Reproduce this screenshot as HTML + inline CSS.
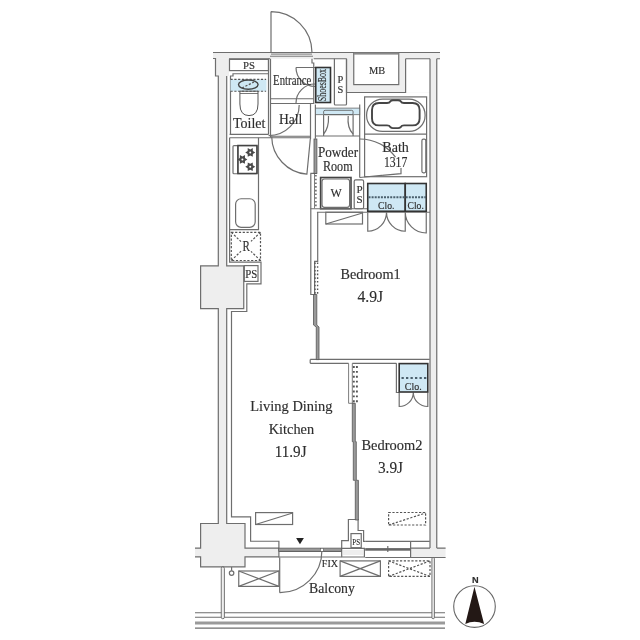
<!DOCTYPE html>
<html><head><meta charset="utf-8">
<style>
html,body{margin:0;padding:0;background:#fff;width:640px;height:640px;overflow:hidden}
svg{display:block;will-change:transform}
text{font-family:"Liberation Serif",serif;fill:#2e2e2e;stroke:#2e2e2e;stroke-width:0.15}
</style></head><body>
<svg width="640" height="640" viewBox="0 0 640 640">
<!-- gray structural fills -->
<g fill="#eeeeee" stroke="none">
<rect x="213" y="52.5" width="227" height="6.25"/>
<rect x="215.5" y="58.5" width="13.5" height="17.5"/>
<rect x="218.3" y="58.75" width="8.4" height="490"/>
<rect x="200.6" y="265.9" width="43.15" height="42.7"/>
<rect x="200.6" y="523.5" width="44.4" height="43.4"/>
<rect x="195" y="548.1" width="84" height="8.8"/>
<rect x="410.6" y="548.1" width="35" height="8.8"/>
<rect x="430" y="52.5" width="6.75" height="496"/>
<rect x="346.5" y="52.5" width="83.5" height="40"/>
</g>
<g fill="#fff" stroke="none">
<rect x="353.75" y="53" width="45" height="31.6"/>
<rect x="405.6" y="58.75" width="24.4" height="33.75"/>
</g>
<g fill="none" stroke="#6e6e6e" stroke-width="1.2">
<!-- top outer -->
<path d="M213 52.5H440"/>
<path d="M213 58.5H215.5V76H218.3V265.9H200.6V308.6H218.3V523.5H200.6V548.1H195"/>
<path d="M195 556.9H200.6V566.9H245V556.9H279"/>
<path d="M226.7 76V265.9H243.75V308.6H226.7V523.5H245V548.1H279"/>
<!-- top inner segments -->
<path d="M229 58.75H270 M313.75 58.75H346.5 M405.6 58.75H430 M436.75 58.75H440"/>
<path d="M436.75 58.75V548.1 M430 58.75V548.1"/>
<path d="M346.5 58.75V92.5H405.6V58.75"/>
<rect x="353.75" y="53" width="45" height="31.6"/>
<!-- entrance door -->
<path d="M271 11.6V52.5 M271 11.6A41 41 0 0 1 312 52.5"/>
<path d="M270 56.25H313 M271 54.1H312" stroke-width="0.9"/>
<path d="M268.5 58.75V134.4 M270.5 58.75V137.5"/>
<path d="M312 58.75V63H313.75V104"/>
<path d="M270.5 98.75H313.75 M270.5 103.5H313.75"/>
<path d="M296 67.5H315 M296 67.5A19 19 0 0 0 315 86.5 M296 103A19 19 0 0 1 315 84"/>
<path d="M299.2 105A30.6 30.6 0 0 1 268.6 135.6"/>
<!-- toilet -->
<rect x="229.5" y="59.4" width="39" height="11.2"/>
<path d="M230.5 134.4V76H233V73.75H268"/>
<!-- hall -->
<path d="M310.5 104V139"/>
<path d="M229.6 134.4H268.5 M270.5 136.25H310.5 M229.6 137.75H310.5"/>
<!-- kitchen -->
<path d="M229.6 137.75V262.1H261V283.9H246.8V311.5H231.5V516.9H250.6V541.25H278.9V557.5"/>
<path d="M229.6 229.6H258.5V137.75"/>
<rect x="233" y="145.6" width="24" height="28.15" rx="1"/>
<path d="M237.9 145.6V173.75"/>
<rect x="235.6" y="198.75" width="19.6" height="28.6" rx="5.5"/>
<rect x="244.3" y="265.6" width="13.7" height="15.8"/>
<!-- LDK door -->
<path d="M279.7 557.5V592.7 M279.7 592.7A42 42 0 0 0 321.9 550.5"/>
<path d="M279 551.5H341.4 M279 557H341.4"/>
<!-- PS tower -->
<path d="M341.7 548.4V540.6H348.4V519.5H358.1V530.5H363.6V541.4H365.2"/>
<rect x="351" y="533.6" width="10.25" height="14.1"/>
<path d="M341.7 548.4H364.4V557H341.7Z"/>
<!-- bedroom2 window -->
<path d="M365.2 541.4H429.75 M365.2 557.5H445.6 M410.6 541.4V557.5 M410.6 548.1H430 M436.75 548.1H445.6 M387.8 546V552"/>
<!-- powder room -->
<path d="M315.4 104.4V138.75 M323.6 114.7V135.5 M353.1 114.7V135.5 M359.7 104.4V177.5 M315.4 136H359.7"/>
<path d="M328.5 116Q329 128 323.6 134 M348.2 116Q347 128 353.1 134"/>
<path d="M334.4 58.75V104Q334.4 105 335.4 105H345.5Q346.5 105 346.5 104V58.75"/>
<!-- bath -->
<rect x="364.6" y="96.9" width="62" height="79.8"/>
<path d="M364.6 134.2H426.6"/>
<rect x="366.6" y="99.1" width="58.5" height="32.3" rx="16"/>
<path d="M379 103H387Q389.5 103 390.5 101.2Q391.5 100.2 393 100.2H398Q399.6 100.2 400.6 101.2Q401.6 103 404 103H412.6Q419.6 103 419.6 110V118.4Q419.6 125.4 412.6 125.4H404Q401.6 125.4 400.6 127.2Q399.6 128.1 398 128.1H393Q391.5 128.1 390.5 127.2Q389.5 125.4 387 125.4H379Q372 125.4 372 118.4V110Q372 103 379 103Z" stroke="#454545" stroke-width="1.9"/>
<rect x="421.9" y="139.2" width="3.9" height="33.6" rx="1.5"/>
<path d="M359.7 139A44 44 0 0 1 395.5 157.2 M359.7 177.5L401 173.6V168.1"/>
<!-- partition LDK/bedroom1 -->
<path d="M310.8 173.4V294.5H315.8 M317.7 212V261.3H314.6V294.5 M310.3 173.4H316.9"/>
<path d="M314.5 174V208.3 M352.3 363.4V403.3 M348.6 363.4V403.3H354.7" stroke-width="0.9"/>
<!-- W, PS -->
<rect x="320.6" y="177.5" width="30.4" height="31.25" stroke="#444" stroke-width="1.6"/>
<rect x="322" y="179" width="27.6" height="28.3" rx="2.5"/>
<rect x="354.2" y="179.8" width="9.4" height="28.95" rx="1.5"/>
<path d="M310.5 208.75H367"/>
<path d="M316.9 212.25H430"/>
<rect x="325.8" y="212.25" width="36.7" height="11.75"/>
<path d="M325.8 224L362.5 213"/>
<!-- closet doors bedroom1 -->
<path d="M367.75 212.25V231.25A19 19 0 0 0 386.5 212.25 M405.25 212.25V231.25A19 19 0 0 1 386.5 212.25 M426.25 212.25V233A21 21 0 0 1 405.25 212.25"/>
<!-- bedroom1 bottom wall -->
<path d="M310.2 359.4H429.7 M310.2 363.3H348.6 M352.3 363.3H396.4 M310.2 359.4V363.3"/>
<!-- bedroom2 left wall -->
<path d="M396.4 363.3V392.5H399.2"/>
<path d="M399.2 392.5V406.5A14.1 14 0 0 0 413.3 392.5 M427.8 392.5V406.5A14.5 14 0 0 1 413.3 392.5"/>
<!-- balcony -->
<path d="M195 612.75H445 M195 617.25H445 M195 628.1H445"/>
<rect x="238.75" y="571" width="40.15" height="15.4"/>
<path d="M238.75 571L278.9 586.4 M238.75 586.4L278.9 571"/>
<circle cx="231.6" cy="573.1" r="2.25"/>
<path d="M231.6 566.9V570.85"/>
<rect x="340.1" y="560.9" width="40.3" height="15.5"/>
<path d="M340.1 560.9L380.4 576.4 M340.1 576.4L380.4 560.9"/>
<rect x="255.6" y="512.6" width="37" height="11.9"/>
<path d="M255.6 524.5L292.6 513"/>
</g>
<!-- hall/LDK door -->
<g fill="none" stroke="#6e6e6e" stroke-width="1.2">
<path d="M271.7 136.7A38.3 38.3 0 0 0 306.9 174.2L310.3 139"/>
</g>
<!-- thick partition bars -->
<g fill="#9a9a9a" stroke="#555" stroke-width="0.8">
<rect x="314" y="139" width="2.9" height="34.4"/>
<path d="M313.5 294.5H316.8V325L319 327V359.6H316.25V327L313.5 325Z"/>
<path d="M352.3 403.3H355.3V441.7H356.3V480.3H358.4V520H355.3V480.3H353.3V441.7H352.3Z"/>
</g>
<g stroke="#555" fill="none" stroke-width="1.4" stroke-dasharray="1.6 2.1">
<path d="M315.9 175V208 M315 262.5V294 M317.6 262.5V294"/>
</g>
<g stroke="#555" fill="none" stroke-width="1.9" stroke-dasharray="1.9 3">
<path d="M353.8 366V402.5 M356.9 366V402.5"/>
</g>
<!-- balcony rail band -->
<rect x="195" y="621.5" width="250" height="3" fill="#9a9a9a"/>
<!-- posts -->
<rect x="221.25" y="566.9" width="3.15" height="51.85" rx="1.5" fill="#eee" stroke="#555" stroke-width="0.8"/>
<rect x="431.9" y="557.5" width="2.5" height="61.25" rx="1.2" fill="#eee" stroke="#555" stroke-width="0.8"/>
<!-- sliding door bar -->
<rect x="278.75" y="548.1" width="62.5" height="3.15" fill="#9a9a9a" stroke="#555" stroke-width="0.7"/>
<rect x="320.4" y="548.3" width="3" height="3" fill="#fff" stroke="#555" stroke-width="0.6"/>
<rect x="365.2" y="548.1" width="45.4" height="2.6" fill="#666"/>
<rect x="343" y="550" width="20" height="5" fill="#eeeeee"/>
<path d="M296.1 538H303.9L300 544.2Z" fill="#222"/>
<!-- stove burners -->
<g fill="#4a4a4a"><polygon points="255.25,152.40 252.85,153.90 252.75,156.73 250.25,155.40 247.75,156.73 247.65,153.90 245.25,152.40 247.65,150.90 247.75,148.07 250.25,149.40 252.75,148.07 252.85,150.90"/><polygon points="247.40,159.40 245.00,160.90 244.90,163.73 242.40,162.40 239.90,163.73 239.80,160.90 237.40,159.40 239.80,157.90 239.90,155.07 242.40,156.40 244.90,155.07 245.00,157.90"/><polygon points="255.25,166.75 252.85,168.25 252.75,171.08 250.25,169.75 247.75,171.08 247.65,168.25 245.25,166.75 247.65,165.25 247.75,162.42 250.25,163.75 252.75,162.42 252.85,165.25"/></g>
<g fill="#fff"><circle cx="250.25" cy="152.4" r="1.0"/><circle cx="242.4" cy="159.4" r="1.0"/><circle cx="250.25" cy="166.75" r="1.0"/></g>
<path d="M237.9 145.6H257V173.5H237.9Z M237.9 145.6V173.5" fill="none" stroke="#444" stroke-width="1.5"/>
<rect x="354" y="52.6" width="44.5" height="2" fill="#8a8a8a"/>
<!-- blue fixtures -->
<g stroke="#333">
<rect x="315.75" y="67.5" width="14.75" height="35" fill="#cfe8f4" stroke-width="1.6"/>
<rect x="367.75" y="183.5" width="37.5" height="27.75" fill="#cfe8f4" stroke-width="1.6"/>
<rect x="405.25" y="183.5" width="21" height="27.75" fill="#cfe8f4" stroke-width="1.6"/>
<rect x="399.2" y="363.6" width="28.6" height="28.4" fill="#cfe8f4" stroke-width="1.6"/>
</g>
<rect x="230.5" y="79.4" width="36" height="11.85" fill="#cfe8f4"/>
<rect x="315.4" y="108.1" width="44.3" height="6.6" fill="#cfe8f4" stroke="#666" stroke-width="0.8"/>
<rect x="323.6" y="110.3" width="29.5" height="4.4" rx="1.5" fill="none" stroke="#555" stroke-width="0.8"/>
<ellipse cx="248.3" cy="84.6" rx="9.8" ry="4.6" fill="#cfe8f4" stroke="#444" stroke-width="1.4"/>
<path d="M239.9 91.2V104Q239.9 115.6 249 115.6Q258 115.6 258 104V91.2Z" fill="#fff" stroke="#555"/>
<path d="M240 93.5H258" stroke="#555" stroke-width="0.8"/>
<g stroke="#555" fill="none" stroke-width="1.2" stroke-dasharray="2.2 1.6">
<path d="M230.5 79.4H266.1 M230.5 91.25H266.1"/>
<path d="M242 88L254 82"/>
<rect x="231.3" y="232.3" width="29.2" height="28.2"/>
<path d="M231.3 232.3L241 241.6 M260.5 232.3L251 241.4 M231.3 260.5L241 251.2 M260.5 260.5L251 251.4"/>
<rect x="388.6" y="512.5" width="37" height="12.5"/>
<path d="M388.6 525L425.6 513"/>
<rect x="388.6" y="560.9" width="41.4" height="15.5"/>
<path d="M388.6 560.9L430 576.4 M388.6 576.4L430 560.9"/>
</g>
<g stroke="#4a5f6c" stroke-width="2.1" stroke-dasharray="2 1.1" fill="none">
<path d="M368.5 197.25H426"/></g>
<g stroke="#4a5f6c" stroke-width="2.2" stroke-dasharray="2.3 2.2" fill="none"><path d="M401.5 378H427"/>
</g>
<!-- compass -->
<circle cx="474.5" cy="606.6" r="20.8" fill="none" stroke="#666" stroke-width="1.1"/>
<path d="M474.45 586.8L465.3 623.9Q474.45 619.5 484.1 623.9Z" fill="#231815"/>
<text x="471.9" y="583.3" style="font-family:'Liberation Sans',sans-serif" font-weight="bold" font-size="9.2" fill="#231815">N</text>
<!-- labels -->
<g lengthAdjust="spacingAndGlyphs">
<text x="273.1" y="85.2" font-size="15" textLength="38.3" lengthAdjust="spacingAndGlyphs">Entrance</text>
<text x="233" y="127.5" font-size="14.2" textLength="32.5" lengthAdjust="spacingAndGlyphs">Toilet</text>
<text x="279" y="123.75" font-size="15" textLength="23.4" lengthAdjust="spacingAndGlyphs">Hall</text>
<text x="317.9" y="156.9" font-size="13.8" textLength="40.2" lengthAdjust="spacingAndGlyphs">Powder</text>
<text x="322.9" y="170.5" font-size="14.2" textLength="29.7" lengthAdjust="spacingAndGlyphs">Room</text>
<text x="382.3" y="151.7" font-size="14.2" textLength="26.6" lengthAdjust="spacingAndGlyphs">Bath</text>
<text x="383.9" y="166.9" font-size="14.7" textLength="23.4" lengthAdjust="spacingAndGlyphs">1317</text>
<text x="340.5" y="278.8" font-size="14.4" textLength="60.1" lengthAdjust="spacingAndGlyphs">Bedroom1</text>
<text x="357.4" y="302.1" font-size="17.4" textLength="25.7" lengthAdjust="spacingAndGlyphs">4.9J</text>
<text x="250.2" y="410.8" font-size="14.7" textLength="82.4" lengthAdjust="spacingAndGlyphs">Living Dining</text>
<text x="268.75" y="434.2" font-size="14.2" textLength="45.3" lengthAdjust="spacingAndGlyphs">Kitchen</text>
<text x="274.7" y="456.8" font-size="16.8" textLength="31.9" lengthAdjust="spacingAndGlyphs">11.9J</text>
<text x="361.4" y="449.9" font-size="14.2" textLength="61" lengthAdjust="spacingAndGlyphs">Bedroom2</text>
<text x="377.9" y="473.4" font-size="17.5" textLength="25.1" lengthAdjust="spacingAndGlyphs">3.9J</text>
<text x="309.1" y="593" font-size="14" textLength="45.7" lengthAdjust="spacingAndGlyphs">Balcony</text>
<text x="243" y="68.5" font-size="10.5" textLength="11.9" lengthAdjust="spacingAndGlyphs">PS</text>
<text x="368.9" y="74" font-size="10.8" textLength="16.2" lengthAdjust="spacingAndGlyphs">MB</text>
<text x="330.4" y="197" font-size="13.5" textLength="11.3" lengthAdjust="spacingAndGlyphs">W</text>
<text x="242.5" y="250.9" font-size="13.8" textLength="7.4" lengthAdjust="spacingAndGlyphs">R</text>
<text x="245.3" y="277.8" font-size="11.5" textLength="12" lengthAdjust="spacingAndGlyphs">PS</text>
<text x="321.8" y="567.4" font-size="10.3" textLength="16.2" lengthAdjust="spacingAndGlyphs">FIX</text>
<text x="337.6" y="82.5" font-size="10.4">P</text>
<text x="337.6" y="92.5" font-size="10.4">S</text>
<text x="356.4" y="193.1" font-size="11">P</text>
<text x="356.6" y="203.3" font-size="11">S</text>
<text x="378.1" y="208.75" font-size="10.4" textLength="16.3" lengthAdjust="spacingAndGlyphs" fill="#2a3a44">Clo.</text>
<text x="407.5" y="208.75" font-size="10.4" textLength="16.3" lengthAdjust="spacingAndGlyphs" fill="#2a3a44">Clo.</text>
<text x="404.8" y="389.7" font-size="10.4" textLength="16.9" lengthAdjust="spacingAndGlyphs" fill="#2a3a44">Clo.</text>
<text x="352.3" y="544.5" font-size="8" textLength="7.8" lengthAdjust="spacingAndGlyphs">PS</text>
<text transform="translate(325.5,101.3) rotate(-90)" font-size="12.5" textLength="32.4" lengthAdjust="spacingAndGlyphs" fill="#2a3a44">ShoesBox</text>
</g>
</svg>
</body></html>
